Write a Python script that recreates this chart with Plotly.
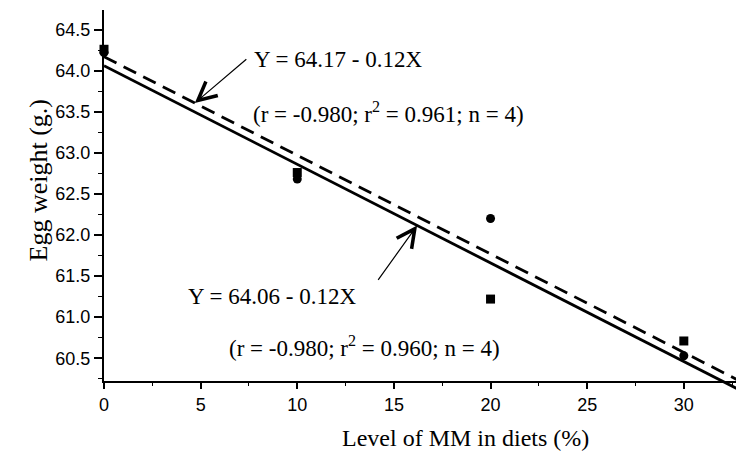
import plotly.graph_objects as go

# Dietary MM level (%) and mean egg weight (g) for the two groups
levels = [0, 10, 20, 30]
egg_circle = [64.22, 62.68, 62.20, 60.53]
egg_square = [64.26, 62.76, 61.22, 60.71]

# Reported regression lines: (intercept, slope)
fit_dashed = (64.17, -0.12)
fit_solid = (64.06, -0.12)
fit_x = [0, 34]

x_ticks = [0, 5, 10, 15, 20, 25, 30]
y_ticks = [60.5, 61.0, 61.5, 62.0, 62.5, 63.0, 63.5, 64.0, 64.5]

x_range = [0, 32.7]
y_range = [60.223, 64.738]

W, H = 736, 470
M_L, M_R, M_T, M_B = 104, 0, 10, 40
plot_h = H - M_T - M_B
axis_bottom_px = 381  # where the x axis sits
y_dom0 = (H - M_B - axis_bottom_px) / plot_h
# second (hidden) y axis with the same scale, reaching further down so the
# fitted lines can run past the x axis
span = y_range[1] - y_range[0]
y2_range = [y_range[0] - span * y_dom0 / (1 - y_dom0), y_range[1]]

serif = "Liberation Serif"
sans = "Liberation Sans"

fig = go.Figure()

def line_y(fit, xs):
    a, b = fit
    return [a + b * x for x in xs]

fig.add_trace(go.Scatter(
    x=fit_x, y=line_y(fit_dashed, fit_x), mode="lines",
    line=dict(color="black", width=2.8, dash="14px,8px"),
    xaxis="x2", yaxis="y2", showlegend=False, hoverinfo="skip"))
fig.add_trace(go.Scatter(
    x=fit_x, y=line_y(fit_solid, fit_x), mode="lines",
    line=dict(color="black", width=2.8),
    xaxis="x2", yaxis="y2", showlegend=False, hoverinfo="skip"))

fig.add_trace(go.Scatter(
    x=levels, y=egg_circle, mode="markers",
    marker=dict(symbol="circle", size=9, color="black"),
    cliponaxis=False, showlegend=False))
fig.add_trace(go.Scatter(
    x=levels, y=egg_square, mode="markers",
    marker=dict(symbol="square", size=9, color="black"),
    cliponaxis=False, showlegend=False))

tick_font = dict(family=sans, size=18, color="black")

fig.update_layout(
    width=W, height=H,
    margin=dict(l=M_L, r=M_R, t=M_T, b=M_B, pad=0),
    paper_bgcolor="white", plot_bgcolor="rgba(0,0,0,0)",
    showlegend=False,
    xaxis=dict(
        range=x_range, domain=[0, 1], anchor="y",
        tickmode="array", tickvals=x_ticks, ticktext=[str(v) for v in x_ticks],
        ticks="outside", ticklen=6, tickwidth=1.6, tickcolor="black",
        minor=dict(dtick=2.5, tick0=0, ticks="outside", ticklen=3,
                   tickwidth=1.2, tickcolor="black"),
        showline=True, linecolor="black", linewidth=2.2,
        showgrid=False, zeroline=False, tickfont=tick_font),
    yaxis=dict(
        range=y_range, domain=[y_dom0, 1], anchor="x",
        tickmode="array", tickvals=y_ticks,
        ticktext=[f"{v:.1f}" for v in y_ticks],
        ticks="outside", ticklen=8, tickwidth=1.6, tickcolor="black",
        minor=dict(dtick=0.25, tick0=60.0, ticks="outside", ticklen=4,
                   tickwidth=1.2, tickcolor="black"),
        showline=True, linecolor="black", linewidth=2.2,
        showgrid=False, zeroline=False, tickfont=tick_font),
    xaxis2=dict(range=x_range, domain=[0, 1], anchor="y2", visible=False),
    yaxis2=dict(range=y2_range, domain=[0, 1], anchor="x2", visible=False),
)

eq_font = dict(family=serif, size=23, color="black")

def arrow_to_line(fit, x_at, ax, ay):
    fig.add_annotation(
        x=x_at, y=line_y(fit, [x_at])[0], xref="x", yref="y",
        text="", showarrow=True, ax=ax, ay=ay,
        arrowhead=5, arrowsize=3.0, arrowwidth=1.2, arrowcolor="black")

arrow_to_line(fit_dashed, 4.7, 53, -45)
arrow_to_line(fit_solid, 16.2, -40, 56)

def eq_label(x, y, text):
    fig.add_annotation(x=x, y=y, xref="x", yref="y", text=text,
                       showarrow=False, xanchor="left", yanchor="middle",
                       font=eq_font)

eq_label(7.68, 64.13, "Y = 64.17 - 0.12X")
eq_label(7.62, 63.485, "(r = -0.980; r<sup>2</sup> = 0.961; n = 4)")
eq_label(4.25, 61.247, "Y = 64.06 - 0.12X")
eq_label(6.37, 60.64, "(r = -0.980; r<sup>2</sup> = 0.960; n = 4)")

fig.add_annotation(x=(465 - M_L) / (W - M_L - M_R), y=(H - M_B - 453) / plot_h,
                   xref="paper", yref="paper", showarrow=False,
                   text="Level of MM in diets (%)",
                   font=dict(family=serif, size=24, color="black"))
fig.add_annotation(x=(21 - M_L) / (W - M_L - M_R), y=(H - M_B - 181) / plot_h,
                   xref="paper", yref="paper", showarrow=False, textangle=-90,
                   text="Egg weight (g.)",
                   font=dict(family=serif, size=26, color="black"))

fig.write_html("out.html")
